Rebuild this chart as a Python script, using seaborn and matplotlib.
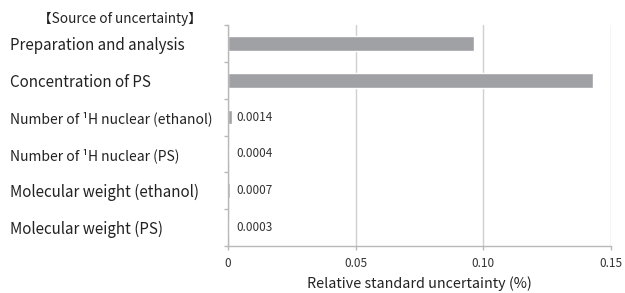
import matplotlib
matplotlib.use("Agg")
import matplotlib.pyplot as plt
import seaborn as sns
import pandas as pd

categories = [
    "Preparation and analysis",
    "Concentration of PS",
    "Number of \u00b9H nuclear (ethanol)",
    "Number of \u00b9H nuclear (PS)",
    "Molecular weight (ethanol)",
    "Molecular weight (PS)",
]
values = [0.0962, 0.1428, 0.0014, 0.0004, 0.0007, 0.0003]
value_labels = ["", "", "0.0014", "0.0004", "0.0007", "0.0003"]
x_ticks = [0, 0.05, 0.10, 0.15]
x_tick_labels = ["0", "0.05", "0.10", "0.15"]

sns.set_theme(style="white")
plt.rcParams['font.family'] = ['Noto Sans CJK JP', 'DejaVu Sans']

df = pd.DataFrame({"cat": categories, "val": values})

fig = plt.figure(figsize=(6.25, 2.93), dpi=100)
ax = fig.add_axes([228/625, 1-246/293, (611-228)/625, (246-25)/293])

sns.barplot(data=df, y="cat", x="val", orient="h", color="#a0a1a5",
            width=0.4, saturation=1, ax=ax)

ax.set_xlim(0, 0.15)
ax.set_ylim(len(categories)-0.5, -0.5)
ax.set_xticks(x_ticks)
ax.set_xticklabels(x_tick_labels, fontsize=8.5, color="#333333")
ax.xaxis.grid(True, color="#cfcfcf", linewidth=1)
ax.set_axisbelow(True)

# category labels left-aligned
ax.set_yticks(range(len(categories)))
ax.set_yticklabels(categories, fontsize=10.9, ha="left", color="#222222")
ax.tick_params(axis="y", which="major", length=0, pad=218*0.72)
ax.set_yticks([i + 0.5 for i in range(-1, len(categories))], minor=True)
ax.tick_params(axis="y", which="minor", length=3, color="#b8b8b8", width=1, left=True)
ax.tick_params(axis="x", length=3, color="#b8b8b8", width=1, bottom=True, pad=5)

for lab in ax.get_yticklabels():
    if "Number" in lab.get_text():
        lab.set_fontsize(10)

for s in ["top", "right"]:
    ax.spines[s].set_visible(False)
for s in ["left", "bottom"]:
    ax.spines[s].set_color("#b8b8b8")
    ax.spines[s].set_linewidth(1)

ax.set_xlabel("Relative standard uncertainty (%)", fontsize=10.3, color="#222222")
ax.xaxis.label.set_va("center")
ax.xaxis.set_label_coords(0.5, -(283.5 - 246) / 221)
ax.set_ylabel("")

for i, (v, t) in enumerate(zip(values, value_labels)):
    if t:
        ax.annotate(t, xy=(0, i), xytext=(6.2, 0), textcoords="offset points",
                    fontsize=8.5, va="center", ha="left", color="#333333")

fig.text(38/625, 1-19/293, "\u3010Source of uncertainty\u3011", fontsize=9.8,
         ha="left", va="center", color="#222222")

fig.savefig("out.png", dpi=100, facecolor="white")
